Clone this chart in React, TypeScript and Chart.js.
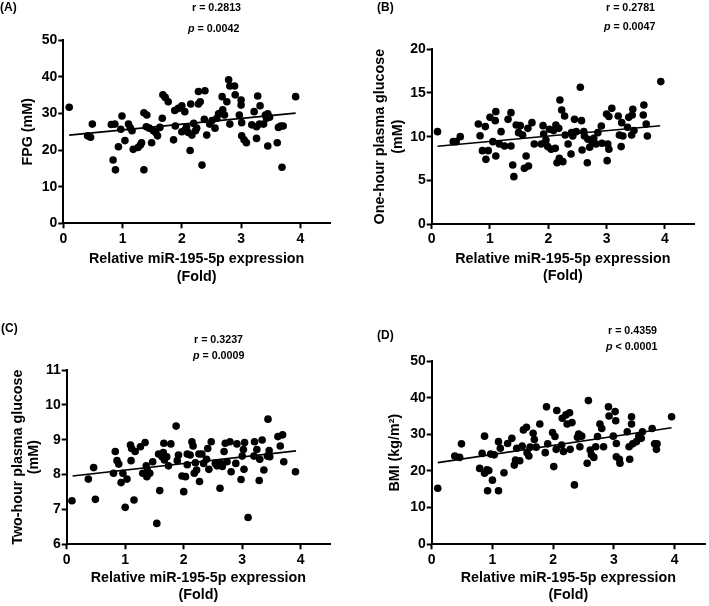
import React, { useEffect, useRef } from "react";
import { Chart, registerables } from "chart.js";
Chart.register(...registerables);

const FONT = "'Liberation Sans', Arial, Helvetica, sans-serif";

// ---------- data ----------
const xTickValues = [0, 1, 2, 3, 4];
const xTitle = ["Relative miR-195-5p expression", "(Fold)"];

// (A) FPG
const fpgX = [0.10,0.41,0.46,0.49,0.81,0.87,0.84,0.88,0.93,0.99,0.97,1.04,1.10,1.13,1.16,1.18,1.26,1.30,1.32,1.36,1.41,1.36,1.40,1.45,1.49,1.52,1.56,1.59,1.63,1.67,1.68,1.72,1.77,1.86,1.88,1.89,1.94,2.00,2.00,2.05,2.06,2.08,2.11,2.14,2.15,2.17,2.20,2.23,2.25,2.28,2.28,2.31,2.34,2.38,2.39,2.42,2.47,2.51,2.56,2.59,2.62,2.66,2.68,2.69,2.72,2.76,2.79,2.81,2.81,2.89,2.90,2.97,3.00,3.00,3.01,3.01,3.05,3.09,3.18,3.22,3.26,3.26,3.28,3.31,3.32,3.38,3.41,3.43,3.45,3.45,3.48,3.61,3.63,3.67,3.69,3.71,3.92];
const fpgY = [31.7,23.9,23.5,27.1,27.0,27.1,17.3,14.6,20.9,29.3,25.7,22.6,27.1,26.1,25.3,20.2,20.7,21.4,22.0,30.2,29.6,14.6,26.4,26.0,22.0,25.3,24.8,23.9,26.2,28.7,35.1,34.4,33.2,22.8,30.8,26.6,31.4,32.1,25.0,30.5,25.7,26.4,24.8,19.9,32.6,24.1,27.3,25.3,26.0,32.6,36.0,33.2,15.9,28.4,36.2,24.1,27.1,28.1,26.0,28.7,29.9,30.2,34.6,31.0,29.6,33.2,39.2,37.5,27.1,37.5,35.1,29.6,33.7,32.3,27.5,23.9,22.8,22.0,26.9,30.5,26.4,23.2,34.8,27.1,32.1,27.1,29.6,28.7,29.9,21.1,29.0,22.0,26.2,26.6,15.3,26.6,34.6];
const fpgFitX = [0.1, 3.92];
const fpgFitY = [24.1, 30.1];
const fpgTicks = [0, 10, 20, 30, 40, 50];

// (B) One-hour plasma glucose
const ohX = [0.10,0.37,0.42,0.49,0.80,0.83,0.87,0.92,0.93,0.97,1.00,1.05,1.09,1.10,1.10,1.16,1.19,1.25,1.31,1.36,1.36,1.39,1.41,1.45,1.49,1.52,1.56,1.59,1.62,1.65,1.66,1.72,1.76,1.88,1.91,1.92,1.96,1.99,2.02,2.05,2.09,2.12,2.13,2.15,2.18,2.19,2.20,2.23,2.25,2.28,2.29,2.34,2.39,2.40,2.42,2.45,2.48,2.55,2.57,2.58,2.61,2.62,2.67,2.68,2.71,2.75,2.78,2.82,2.85,2.91,2.92,3.00,3.01,3.02,3.04,3.04,3.09,3.20,3.22,3.25,3.26,3.28,3.36,3.38,3.43,3.44,3.45,3.47,3.63,3.64,3.68,3.70,3.93];
const ohY = [10.57,9.43,9.43,10.0,11.45,10.11,8.40,11.15,7.40,8.40,12.21,9.43,11.83,12.86,7.78,9.16,10.57,8.93,11.98,12.75,8.93,6.76,5.42,11.34,10.46,11.26,10.19,6.37,7.78,10.95,6.64,11.6,9.16,9.16,11.26,10.3,9.6,8.86,10.84,8.55,10.69,8.66,11.34,7.02,10.95,7.52,14.2,13.05,7.14,12.37,10.19,9.16,8.02,10.46,10.08,11.98,10.57,15.65,11.83,8.47,10.57,10.08,7.02,9.7,8.78,9.43,9.81,9.16,10.46,11.22,9.24,12.6,7.25,9.16,8.55,12.3,13.24,12.37,10.19,8.86,11.6,10.08,11.07,12.21,10.19,12.48,13.13,10.69,12.48,13.63,11.45,10.08,16.3];
const ohFitX = [0.1, 3.92];
const ohFitY = [8.9, 11.25];
const ohTicks = [0, 5, 10, 15, 20];

// (C) Two-hour plasma glucose
const thX = [0.09,0.37,0.46,0.49,0.80,0.83,0.86,0.89,0.93,0.96,1.00,1.03,1.09,1.10,1.11,1.15,1.17,1.26,1.30,1.34,1.36,1.37,1.38,1.42,1.47,1.54,1.57,1.59,1.63,1.65,1.66,1.67,1.71,1.74,1.78,1.87,1.89,1.91,1.97,2.00,2.03,2.06,2.06,2.11,2.14,2.16,2.18,2.20,2.22,2.26,2.27,2.31,2.34,2.39,2.41,2.43,2.47,2.54,2.57,2.62,2.63,2.66,2.69,2.71,2.74,2.79,2.81,2.89,2.91,2.98,3.00,3.02,3.03,3.04,3.10,3.20,3.21,3.25,3.29,3.30,3.34,3.37,3.43,3.44,3.46,3.47,3.61,3.65,3.69,3.71,3.91];
const thY = [7.25,7.87,8.20,7.29,8.04,8.66,8.40,8.30,7.77,8.04,7.06,7.87,8.85,8.40,8.75,7.27,8.66,8.80,8.04,8.92,8.25,7.94,8.11,8.04,8.37,6.60,8.59,7.54,8.51,8.63,8.90,8.42,8.51,8.25,8.88,9.39,8.40,8.56,7.96,7.51,7.94,8.59,8.28,8.56,8.94,8.82,8.04,8.34,8.13,8.59,7.80,8.59,8.32,8.44,8.75,8.15,8.94,8.32,8.25,7.61,8.32,8.23,8.66,8.90,8.37,8.94,8.08,8.32,8.88,7.86,8.53,8.72,8.15,8.92,6.77,8.53,8.94,8.72,7.83,8.44,8.99,8.13,8.53,9.59,8.69,8.51,9.09,8.82,9.14,8.37,8.08];
const thFitX = [0.1, 3.92];
const thFitY = [7.96, 8.68];
const thTicks = [6, 7, 8, 9, 10, 11];

// (D) BMI
const bmiX = [0.10,0.38,0.46,0.49,0.79,0.83,0.87,0.87,0.91,0.92,0.94,0.97,1.00,1.03,1.10,1.10,1.13,1.19,1.25,1.32,1.36,1.38,1.40,1.45,1.49,1.51,1.56,1.57,1.60,1.62,1.67,1.69,1.72,1.78,1.87,1.89,1.91,1.99,2.01,2.03,2.05,2.06,2.14,2.15,2.17,2.21,2.23,2.27,2.28,2.31,2.35,2.40,2.42,2.44,2.47,2.56,2.58,2.61,2.63,2.67,2.70,2.73,2.77,2.80,2.83,2.91,2.92,2.99,3.02,3.03,3.04,3.04,3.09,3.10,3.22,3.25,3.26,3.29,3.29,3.31,3.37,3.41,3.45,3.47,3.63,3.67,3.70,3.71,3.95];
const bmiY = [15.3,24.1,23.7,27.4,20.7,24.8,19.4,29.5,20.3,14.6,20.1,24.6,17.5,24.4,28.0,14.6,26.2,19.5,27.5,28.9,21.6,23.0,26.2,22.8,26.8,31.2,31.9,25.0,24.1,26.5,30.3,28.6,26.5,32.8,25.0,37.5,27.4,30.5,21.2,29.4,25.9,36.5,27.1,34.4,25.3,35.3,32.8,35.9,25.9,33.2,16.2,29.2,30.1,26.6,29.5,22.1,39.2,25.7,24.4,23.7,26.6,29.4,32.8,31.6,26.6,37.5,35.0,29.5,36.2,33.7,27.5,23.9,23.2,22.1,30.7,26.6,23.2,34.8,32.8,27.4,28.0,29.5,28.9,30.7,31.6,27.4,25.9,27.4,34.8];
const bmiFitX = [0.1, 3.95];
const bmiFitY = [22.3, 31.8];
const bmiTicks = [0, 10, 20, 30, 40, 50];

// ---------- panel ----------
type PanelProps = {
  left: number; top: number; width: number; height: number;
  xs: number[]; ys: number[]; fitX: number[]; fitY: number[];
  yTicks: number[]; yTitle: string | string[];
  pad: { left: number; top: number; right: number; bottom: number };
  yWidth: number; xHeight: number; yTitlePad: number; lh: number;
};

function Panel(p: PanelProps) {
  const ref = useRef<HTMLCanvasElement | null>(null);
  useEffect(() => {
    if (!ref.current) return;
    const tickFont = { family: FONT, size: 14, weight: "bold" as const, lineHeight: 1.2 };
    const titleFont = { family: FONT, size: 14.3, weight: "bold" as const, lineHeight: p.lh };
    const chart = new Chart(ref.current, {
      type: "scatter",
      data: {
        datasets: [
          {
            type: "line",
            data: p.fitX.map((x, i) => ({ x, y: p.fitY[i] })),
            borderColor: "#000",
            borderWidth: 1.7,
            pointRadius: 0,
            fill: false,
          } as any,
          {
            data: p.xs.map((x, i) => ({ x, y: p.ys[i] })),
            backgroundColor: "#000",
            borderWidth: 0,
            pointRadius: 3.8,
          },
        ],
      },
      options: {
        animation: false,
        responsive: false,
        devicePixelRatio: 1,
        layout: { padding: p.pad },
        plugins: { legend: { display: false }, tooltip: { enabled: false } },
        scales: {
          x: {
            type: "linear",
            min: 0,
            max: 4.5,
            afterBuildTicks: (axis: any) => {
              axis.ticks = xTickValues.map((v) => ({ value: v }));
            },
            afterFit: (s: any) => { s.height = p.xHeight; },
            ticks: { font: tickFont, color: "#000", padding: 2, maxRotation: 0, autoSkip: false },
            grid: { display: true, drawOnChartArea: false, drawTicks: true, tickLength: 5, color: "#000", tickColor: "#000", tickWidth: 2 },
            border: { display: true, color: "#000", width: 2 },
            title: { display: true, text: xTitle, font: titleFont, color: "#000", padding: 0 },
          },
          y: {
            type: "linear",
            min: p.yTicks[0],
            max: p.yTicks[p.yTicks.length - 1],
            afterBuildTicks: (axis: any) => {
              axis.ticks = p.yTicks.map((v) => ({ value: v }));
            },
            afterFit: (s: any) => { s.width = p.yWidth; },
            ticks: { font: tickFont, color: "#000", padding: 1, autoSkip: false },
            grid: { display: true, drawOnChartArea: false, drawTicks: true, tickLength: 5, color: "#000", tickColor: "#000", tickWidth: 2 },
            border: { display: true, color: "#000", width: 2 },
            title: { display: true, text: p.yTitle, font: titleFont, color: "#000", padding: { top: p.yTitlePad, bottom: 0 } },
          },
        },
      },
    });
    return () => chart.destroy();
  }, []);
  return (
    <canvas
      ref={ref}
      width={p.width}
      height={p.height}
      style={{ position: "absolute", left: p.left, top: p.top, width: p.width, height: p.height }}
    />
  );
}

const labelStyle: React.CSSProperties = {
  position: "absolute",
  fontFamily: FONT,
  fontWeight: "bold",
  color: "#000",
  whiteSpace: "nowrap",
};

function Txt({ x, y, size, children }: { x: number; y: number; size: number; children: React.ReactNode }) {
  return (
    <div style={{ ...labelStyle, left: x, top: y - 6, fontSize: size, lineHeight: "12px" }}>{children}</div>
  );
}

export default function App() {
  return (
    <div style={{ position: "absolute", left: 0, top: 0, width: 709, height: 606, background: "#fff", overflow: "hidden" }}>
      <Panel left={0} top={0} width={354} height={300} xs={fpgX} ys={fpgY} fitX={fpgFitX} fitY={fpgFitY}
        yTicks={fpgTicks} yTitle="FPG (mM)" pad={{ left: 0, top: 40.3, right: 24, bottom: 14.3 }}
        yWidth={63.3} xHeight={62.4} yTitlePad={19.2} lh={1.25} />
      <Panel left={354} top={0} width={355} height={300} xs={ohX} ys={ohY} fitX={ohFitX} fitY={ohFitY}
        yTicks={ohTicks} yTitle={["One-hour plasma glucose", "(mM)"]} pad={{ left: 0, top: 49.3, right: 15, bottom: 14.6 }}
        yWidth={77.7} xHeight={61.4} yTitlePad={17} lh={1.25} />
      <Panel left={0} top={300} width={354} height={306} xs={thX} ys={thY} fitX={thFitX} fitY={thFitY}
        yTicks={thTicks} yTitle={["Two-hour plasma glucose", "(mM)"]} pad={{ left: 0, top: 70, right: 24, bottom: 3 }}
        yWidth={66.7} xHeight={58.7} yTitlePad={9.8} lh={1.15} />
      <Panel left={354} top={300} width={355} height={306} xs={bmiX} ys={bmiY} fitX={bmiFitX} fitY={bmiFitY}
        yTicks={bmiTicks} yTitle="BMI (kg/m²)" pad={{ left: 0, top: 61, right: 2, bottom: 3 }}
        yWidth={77.7} xHeight={58.7} yTitlePad={33.3} lh={1.15} />

      <Txt x={0} y={7} size={12}>(A)</Txt>
      <Txt x={377} y={7} size={12}>(B)</Txt>
      <Txt x={1} y={328} size={12}>(C)</Txt>
      <Txt x={377} y={335} size={12}>(D)</Txt>

      <Txt x={192} y={7} size={10.7}>r = 0.2813</Txt>
      <Txt x={188} y={28} size={10.7}><i>p</i> = 0.0042</Txt>
      <Txt x={606} y={7} size={10.7}>r = 0.2781</Txt>
      <Txt x={604} y={26} size={10.7}><i>p</i> = 0.0047</Txt>
      <Txt x={194} y={339} size={10.7}>r = 0.3237</Txt>
      <Txt x={193} y={355} size={10.7}><i>p</i> = 0.0009</Txt>
      <Txt x={608} y={330} size={10.7}>r = 0.4359</Txt>
      <Txt x={606} y={346} size={10.7}><i>p</i> &lt; 0.0001</Txt>
    </div>
  );
}
